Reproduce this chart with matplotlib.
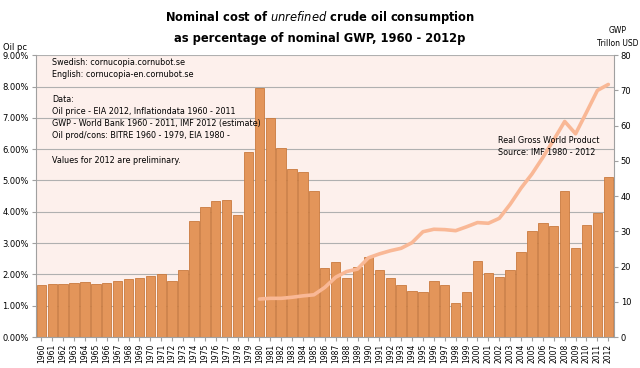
import matplotlib.pyplot as plt
import numpy as np

years = list(range(1960, 2013))
oil_pc = [1.66, 1.68, 1.71, 1.73, 1.76, 1.70, 1.74, 1.78, 1.84, 1.88,
          1.94, 2.00, 1.78, 2.15, 3.72, 4.14, 4.35, 4.39, 3.90, 5.90,
          7.95, 7.00, 6.03, 5.37, 5.26, 4.66, 2.20, 2.40, 1.88, 2.24,
          2.55, 2.13, 1.90, 1.65, 1.47, 1.45, 1.78, 1.66, 1.09, 1.45,
          2.42, 2.04, 1.93, 2.14, 2.71, 3.39, 3.64, 3.55, 4.68, 2.85,
          3.59, 3.96, 5.10]

gwp_years = list(range(1980, 2013))
gwp = [10.8, 11.0, 11.0, 11.3, 11.7, 12.0, 14.1, 17.0, 18.6, 19.3,
       22.5, 23.6, 24.5, 25.2, 26.8, 29.9, 30.6, 30.5, 30.2, 31.3,
       32.5, 32.3, 33.7, 37.7, 42.3, 46.3, 51.0, 56.0, 61.2, 57.7,
       63.8, 70.0, 71.7]

fig = plt.figure(figsize=(6.4, 3.68), dpi=100)
ax = fig.add_axes([0.056, 0.084, 0.903, 0.766])
ax.set_facecolor('#fdf0ec')

x = np.arange(len(years))
ax.bar(x, oil_pc, width=0.86, color='#e3955a', edgecolor='#c97a3e', linewidth=0.6, zorder=2)
ax.set_ylim(0, 9)
ax.set_xlim(-0.5, len(years) - 0.5)
ax.set_yticks(np.arange(0, 9.5, 1))
ax.set_yticklabels(['%.2f%%' % v for v in np.arange(0, 9.5, 1)], fontsize=6)
ax.set_xticks(x)
ax.set_xticklabels([str(y) for y in years], rotation=90, fontsize=5.5)
ax.grid(axis='y', color='#b0b0b0', linewidth=0.8, zorder=0)
ax.tick_params(axis='both', length=3, color='#a0a0a0', pad=2)
for s in ['top', 'right']:
    ax.spines[s].set_visible(False)
ax.spines['left'].set_color('#a0a0a0')
ax.spines['bottom'].set_color('#a0a0a0')

ax2 = ax.twinx()
gx = [years.index(y) for y in gwp_years]
ax2.plot(gx, gwp, color='#f9b896', linewidth=2.6, solid_capstyle='round', zorder=3)
ax2.set_ylim(0, 80)
ax2.set_yticks(range(0, 81, 10))
ax2.tick_params(axis='y', labelsize=6, length=3, color='#a0a0a0', pad=2)
for s in ['top', 'left', 'bottom']:
    ax2.spines[s].set_visible(False)
ax2.spines['right'].set_color('#a0a0a0')

fig.text(0.5, 0.952, 'Nominal cost of $\\it{unrefined}$ crude oil consumption',
         ha='center', va='center', fontsize=8.3, fontweight='bold')
fig.text(0.5, 0.895, 'as percentage of nominal GWP, 1960 - 2012p',
         ha='center', va='center', fontsize=8.3, fontweight='bold')
fig.text(0.004, 0.87, 'Oil pc', fontsize=6, va='center')
fig.text(0.997, 0.9, 'GWP\nTrillon USD', fontsize=5.5, va='center', ha='right',
         multialignment='center', linespacing=1.5)

notes = ('Swedish: cornucopia.cornubot.se\n'
         'English: cornucopia-en.cornubot.se\n'
         '\n'
         'Data:\n'
         'Oil price - EIA 2012, Inflationdata 1960 - 2011\n'
         'GWP - World Bank 1960 - 2011, IMF 2012 (estimate)\n'
         'Oil prod/cons: BITRE 1960 - 1979, EIA 1980 -\n'
         '\n'
         'Values for 2012 are preliminary.')
ax.text(1.0, 8.9, notes, fontsize=5.8, va='top', ha='left', linespacing=1.45, zorder=5)
ax2.text(41.9, 57.2, 'Real Gross World Product\nSource: IMF 1980 - 2012',
         fontsize=5.8, va='top', ha='left', linespacing=1.45, zorder=5)

fig.savefig('out.png', dpi=100)
